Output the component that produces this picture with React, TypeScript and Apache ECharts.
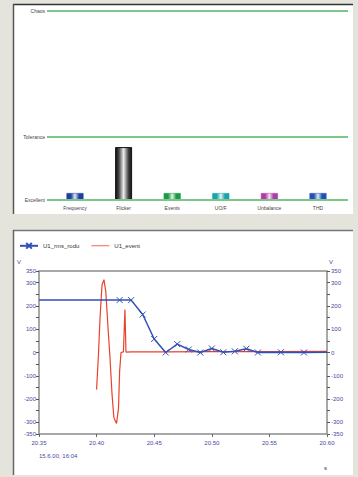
import { useEffect, useRef } from 'react';
import * as echarts from 'echarts';

// ---- top panel data ----
const levelNames = ['Excellent', 'Tolerance', 'Chaos'];
const levelValues = [0, 1, 3];
const categories = ['Frequency', 'Flicker', 'Events', 'UO/F', 'Unbalance', 'THD'];
const qualityValues = [0.11, 0.84, 0.11, 0.11, 0.11, 0.11];
const barEdgeColors = ['#1d3f9e', '#111111', '#1a9a45', '#1aa3ad', '#b03aa8', '#2350b5'];
const barMidColors = ['#e2e8f8', '#eeeeee', '#e0f4e6', '#e0f6f7', '#f7e2f4', '#e2e9f8'];

// ---- bottom panel data ----
const rmsTime = [20.35, 20.42, 20.43, 20.44, 20.45, 20.46, 20.47, 20.48, 20.49, 20.5, 20.51, 20.52, 20.53, 20.54, 20.56, 20.58, 20.6];
const rmsValue = [225, 225, 225, 163, 58, 0, 36, 13, 0, 17, 1, 5, 16, 0, 1, 0, 1];
const eventTime = [20.4, 20.4017, 20.403, 20.4047, 20.4064, 20.408, 20.41, 20.4116, 20.4134, 20.415, 20.4173, 20.419, 20.42, 20.4212, 20.4233, 20.4246, 20.4255, 20.43, 20.46, 20.5, 20.55, 20.6];
const eventValue = [-159, 0, 150, 290, 313, 260, 100, -20, -180, -280, -305, -240, -80, 0, 3, 185, 2, 3, 3, 4, 4, 5];
const seriesNames = ['U1_rms_rodu', 'U1_event'];
const timeStamp = '15.6.00, 16:04';

const FONT = 'Liberation Sans';

export default function App() {
  const ref = useRef<HTMLDivElement>(null);
  useEffect(() => {
    if (!ref.current) return;
    const chart = echarts.init(ref.current, undefined, { renderer: 'svg' });
    const labelColor = '#4848a0';
    const yLabel = (v: number) => (v % 100 === 0 || Math.abs(v) === 350 ? String(v) : '');
    const option: any = {
      animation: false,
      backgroundColor: '#e4e3dc',
      textStyle: { fontFamily: FONT },
      graphic: [
        { type: 'rect', z: -10, shape: { x: 13, y: 4, width: 340, height: 210 }, style: { fill: '#ffffff' } },
        { type: 'line', z: -9, shape: { x1: 13, y1: 4.5, x2: 353, y2: 4.5 }, style: { stroke: '#333', lineWidth: 1.5 } },
        { type: 'line', z: -9, shape: { x1: 13.5, y1: 4, x2: 13.5, y2: 214 }, style: { stroke: '#555', lineWidth: 1.5 } },
        { type: 'rect', z: -10, shape: { x: 13, y: 230, width: 340, height: 245 }, style: { fill: '#ffffff' } },
        { type: 'line', z: -9, shape: { x1: 13, y1: 230.5, x2: 353, y2: 230.5 }, style: { stroke: '#777', lineWidth: 1.5 } },
        { type: 'line', z: -9, shape: { x1: 13.5, y1: 230, x2: 13.5, y2: 475 }, style: { stroke: '#666', lineWidth: 1.5 } },
        { type: 'text', x: 17, y: 259, style: { text: 'V', fontSize: 6, fill: labelColor, fontFamily: FONT } },
        { type: 'text', x: 329, y: 259, style: { text: 'V', fontSize: 6, fill: labelColor, fontFamily: FONT } },
        { type: 'text', x: 39, y: 453, style: { text: timeStamp, fontSize: 6, fill: labelColor, fontFamily: FONT } },
        { type: 'text', x: 324, y: 465, style: { text: 's', fontSize: 6, fill: '#333', fontFamily: FONT } },
      ],
      legend: {
        left: 19,
        top: 242,
        padding: 0,
        itemWidth: 18,
        itemHeight: 7,
        itemGap: 12,
        textStyle: { fontSize: 6, color: '#333', fontFamily: FONT },
        data: [
          seriesNames[0],
          { name: seriesNames[1], icon: 'path://M0,0L36,0L36,1.6L0,1.6Z' },
        ],
      },
      grid: [
        { left: 47, right: 10, top: 11, bottom: 277 },
        { left: 50.7, right: 15.7, top: 11, bottom: 277 },
        { left: 39, top: 271, width: 288, height: 163, show: true, borderColor: '#8c8c8c', borderWidth: 1.5, backgroundColor: '#fff' },
      ],
      xAxis: [
        { gridIndex: 0, type: 'value', min: 0, max: 1, show: false },
        {
          gridIndex: 1, type: 'category', data: categories,
          axisLine: { show: false }, axisTick: { show: false },
          axisLabel: { fontSize: 5, color: '#444', margin: 5, fontFamily: FONT },
        },
        {
          gridIndex: 2, type: 'value', min: 20.35, max: 20.6, interval: 0.05,
          axisLine: { show: false, onZero: false },
          axisTick: { show: true, length: 3, lineStyle: { color: '#666' } },
          splitLine: { show: false },
          axisLabel: { fontSize: 6, color: labelColor, margin: 6, formatter: (v: number) => v.toFixed(2), fontFamily: FONT },
        },
      ],
      yAxis: [
        {
          gridIndex: 0, type: 'value', min: 0, max: 3, interval: 1,
          axisLine: { show: false }, axisTick: { show: false }, splitLine: { show: false },
          axisLabel: {
            fontSize: 5, color: '#444', margin: 2, fontFamily: FONT,
            formatter: (v: number) => { const i = levelValues.indexOf(v); return i >= 0 ? levelNames[i] : ''; },
          },
        },
        { gridIndex: 1, type: 'value', min: 0, max: 3, show: false },
        {
          gridIndex: 2, type: 'value', min: -350, max: 350, interval: 50,
          axisLine: { show: false, onZero: false }, splitLine: { show: false },
          axisTick: { show: true, length: 3, lineStyle: { color: '#555' } },
          axisLabel: { fontSize: 6, color: labelColor, margin: 3, formatter: yLabel, fontFamily: FONT },
        },
        {
          gridIndex: 2, type: 'value', position: 'right', min: -350, max: 350, interval: 50,
          axisLine: { show: false, onZero: false }, splitLine: { show: false },
          axisTick: { show: true, length: 3, lineStyle: { color: '#555' } },
          axisLabel: { fontSize: 6, color: labelColor, margin: 4, formatter: yLabel, fontFamily: FONT },
        },
      ],
      series: [
        {
          type: 'line', xAxisIndex: 0, yAxisIndex: 0, data: [], silent: true,
          markLine: {
            symbol: 'none', silent: true, label: { show: false },
            lineStyle: { color: '#7cc58b', width: 2, type: 'solid' },
            data: levelValues.map((v) => ({ yAxis: v })),
          },
        },
        {
          type: 'bar', xAxisIndex: 1, yAxisIndex: 1, barWidth: 17,
          data: qualityValues.map((v, i) => ({
            value: v,
            itemStyle: {
              borderColor: barEdgeColors[i], borderWidth: i === 1 ? 1 : 0.5,
              color: new echarts.graphic.LinearGradient(0, 0, 1, 0, i === 1
                ? [
                  { offset: 0, color: '#111' },
                  { offset: 0.2, color: '#444' },
                  { offset: 0.5, color: '#eeeeee' },
                  { offset: 0.8, color: '#444' },
                  { offset: 1, color: '#111' },
                ]
                : [
                  { offset: 0, color: barEdgeColors[i] },
                  { offset: 0.25, color: barEdgeColors[i] },
                  { offset: 0.5, color: barMidColors[i] },
                  { offset: 0.75, color: barEdgeColors[i] },
                  { offset: 1, color: barEdgeColors[i] },
                ]),
            },
          })),
        },
        {
          name: seriesNames[0], type: 'line', xAxisIndex: 2, yAxisIndex: 2, z: 4,
          symbol: 'path://M0,0L10,10M10,0L0,10', symbolSize: 6,
          itemStyle: { color: '#3050b8', borderColor: '#3050b8', borderWidth: 1 },
          lineStyle: { color: '#3050b8', width: 1.5 },
          data: rmsTime.map((t, i) => (i === 0 || i === rmsTime.length - 1
            ? { value: [t, rmsValue[i]], symbol: 'none' }
            : { value: [t, rmsValue[i]] })),
        },
        {
          name: seriesNames[1], type: 'line', xAxisIndex: 2, yAxisIndex: 3, z: 3,
          symbol: 'none',
          itemStyle: { color: '#e8412e' },
          lineStyle: { color: '#e8412e', width: 1.2 },
          data: eventTime.map((t, i) => [t, eventValue[i]]),
        },
      ],
    };
    chart.setOption(option);
    return () => chart.dispose();
  }, []);
  return <div ref={ref} style={{ position: 'fixed', left: 0, top: 0, width: 358, height: 477 }} />;
}
